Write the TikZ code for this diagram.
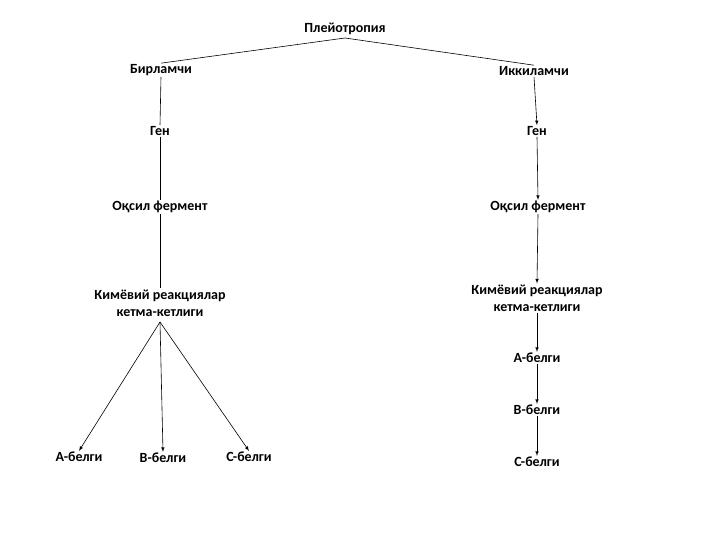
\documentclass[tikz,border=0pt]{standalone}
\usepackage{fontspec}
\setmainfont{Carlito}
\begin{document}
\begin{tikzpicture}[x=1pt,y=-1pt,
  t/.style={font=\bfseries\fontsize{14}{17}\selectfont,align=center,inner sep=1pt},
  ln/.style={draw=black,line width=0.6pt},
  ar/.style={ln,-latex}]
\useasboundingbox (0,0) rectangle (720,540);
\node[t] (p) at (345,29) {Плейотропия};
\node[t] (b) at (161,70) {Бирламчи};
\node[t] (i) at (534,71) {Иккиламчи};
\node[t] (g1) at (160,131) {Ген};
\node[t] (g2) at (537,131) {Ген};
\node[t] (o1) at (160,207) {Оқсил фермент};
\node[t] (o2) at (538,207) {Оқсил фермент};
\node[t] (k1) at (160,303) {Кимёвий реакциялар\\кетма-кетлиги};
\node[t] (k2) at (537,298) {Кимёвий реакциялар\\кетма-кетлиги};
\node[t] (a2) at (537,358) {А-белги};
\node[t] (v2) at (537,410) {В-белги};
\node[t] (c2) at (537,462) {С-белги};
\node[t] (a1) at (79,457) {А-белги};
\node[t] (v1) at (163,458) {В-белги};
\node[t] (c1) at (249,457) {С-белги};
\coordinate (pt) at (345,38);
\draw[ln] (pt) -- (b.north);
\draw[ln] (pt) -- (i.north);
\draw[ln] (b.south) -- (g1.north);
\draw[ln] (g1.south) -- (o1.north);
\draw[ln] (o1.south) -- (k1.north);
\draw[ar] (i.south) -- (g2.north);
\draw[ar] (g2.south) -- (o2.north);
\draw[ar] (o2.south) -- (k2.north);
\draw[ar] (k2.south) -- (a2.north);
\draw[ar] (a2.south) -- (v2.north);
\draw[ar] (v2.south) -- (c2.north);
\coordinate (ks) at (160,322);
\draw[ar] (ks) -- (a1.north);
\draw[ar] (ks) -- (v1.north);
\draw[ar] (ks) -- (c1.north);
\end{tikzpicture}
\end{document}
